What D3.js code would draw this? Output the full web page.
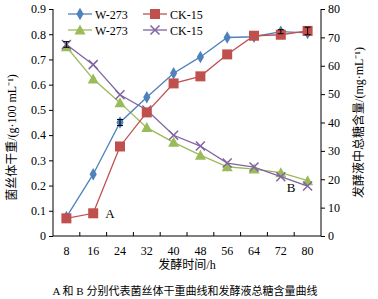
<!DOCTYPE html>
<html>
<head>
<meta charset="utf-8">
<script src="https://cdn.jsdelivr.net/npm/d3@7"></script>
<style>
  body { margin: 0; background: #fff; }
  svg text { font-family: "Liberation Serif", "Noto Sans CJK SC", serif; fill: #000; }
  .axis path, .axis line { stroke: #000; }
</style>
</head>
<body>
<svg id="chart" width="378" height="299"></svg>
<script>
// Data
const hours = [8, 16, 24, 32, 40, 48, 56, 64, 72, 80];
const dryW273 = [0.075, 0.245, 0.45, 0.55, 0.645, 0.71, 0.787, 0.79, 0.81, 0.805];
const dryCK15 = [0.07, 0.09, 0.355, 0.49, 0.605, 0.633, 0.72, 0.794, 0.798, 0.813];
const sugarW273 = [66.7, 55.3, 47.0, 38.2, 33.0, 28.5, 24.4, 23.6, 22.3, 19.5];
const sugarCK15 = [67.5, 60.4, 49.8, 44.4, 35.5, 31.7, 25.7, 24.3, 20.9, 17.6];
const leftTicks = [0, 0.1, 0.2, 0.3, 0.4, 0.5, 0.6, 0.7, 0.8, 0.9];
const rightTicks = [0, 10, 20, 30, 40, 50, 60, 70, 80];

const margin = { top: 9, right: 57, bottom: 63, left: 53 };
const width = 378 - margin.left - margin.right;
const height = 299 - margin.top - margin.bottom;

const svg = d3.select("#chart")
    .append("g")
    .attr("transform", `translate(${margin.left},${margin.top})`);

// Scales
const x = d3.scaleBand().domain(hours).range([0, width]).padding(0);
const cx = d => x(d) + x.bandwidth() / 2;
const yL = d3.scaleLinear().domain([0, 0.9]).range([height, 0]);
const yR = d3.scaleLinear().domain([0, 80]).range([height, 0]);

// Axes
svg.append("g")
    .attr("class", "axis")
    .call(d3.axisLeft(yL).tickValues(leftTicks).tickSize(4).tickFormat(d => d === 0 ? "0" : d3.format(".1f")(d)))
    .call(g => g.select(".domain").attr("d", `M0,0V${height}`))
    .selectAll("text").style("font-size", "12px");

svg.append("g")
    .attr("class", "axis")
    .attr("transform", `translate(${width},0)`)
    .call(d3.axisRight(yR).tickValues(rightTicks).tickSize(4))
    .call(g => g.select(".domain").attr("d", `M0,0V${height}`))
    .selectAll("text").style("font-size", "12px");

const xAxis = svg.append("g")
    .attr("class", "axis")
    .attr("transform", `translate(0,${height})`)
    .call(d3.axisBottom(x).tickSize(0).tickPadding(10))
    .call(g => g.select(".domain").attr("d", `M0,0H${width}`));
xAxis.selectAll("text").style("font-size", "12px");

// boundary ticks on the category axis
xAxis.selectAll(".bt")
    .data(d3.range(1, hours.length))
    .enter()
    .append("line")
    .attr("x1", i => i * x.step())
    .attr("x2", i => i * x.step())
    .attr("y1", 0)
    .attr("y2", -4)
    .attr("stroke", "#000");

// Series
const series = [
    { name: "W-273", values: dryW273, y: yL, color: "#4F81BD", marker: "diamond" },
    { name: "CK-15", values: dryCK15, y: yL, color: "#C0504D", marker: "square" },
    { name: "W-273", values: sugarW273, y: yR, color: "#9BBB59", marker: "triangle" },
    { name: "CK-15", values: sugarCK15, y: yR, color: "#8064A2", marker: "x" }
];

function drawMarker(g, type, color) {
    if (type === "diamond") {
        g.append("path").attr("d", d3.symbol(d3.symbolDiamond, 45)()).attr("fill", color);
    } else if (type === "square") {
        g.append("rect").attr("x", -5).attr("y", -5).attr("width", 10).attr("height", 10).attr("fill", color);
    } else if (type === "triangle") {
        g.append("path").attr("d", "M0,-5.5L5.5,4.5L-5.5,4.5Z").attr("fill", color);
    } else {
        g.append("path").attr("d", "M-4.5,-4.5L4.5,4.5M-4.5,4.5L4.5,-4.5").attr("stroke", color).attr("stroke-width", 1.5).attr("fill", "none");
    }
}

// Error bars (small)
const errs = [
    { h: 24, v: 0.45, e: 0.012, y: yL },
    { h: 72, v: 0.81, e: 0.008, y: yL },
    { h: 80, v: 0.813, e: 0.015, y: yL },
    { h: 8, v: 67.5, e: 1.0, y: yR }
];

// draw order: sugar series first, then dry weight
[2, 3, 0, 1].forEach(i => {
    const s = series[i];
    const line = d3.line().x((d, j) => cx(hours[j])).y(d => s.y(d));
    svg.append("path")
        .datum(s.values)
        .attr("d", line)
        .attr("fill", "none")
        .attr("stroke", s.color)
        .attr("stroke-width", 1.3);
    s.values.forEach((v, j) => {
        const g = svg.append("g").attr("transform", `translate(${cx(hours[j])},${s.y(v)})`);
        drawMarker(g, s.marker, s.color);
    });
});

errs.forEach(d => {
    const g = svg.append("g").attr("stroke", "#000").attr("stroke-width", 1);
    g.append("line").attr("x1", cx(d.h)).attr("x2", cx(d.h)).attr("y1", d.y(d.v - d.e)).attr("y2", d.y(d.v + d.e));
    g.append("line").attr("x1", cx(d.h) - 3).attr("x2", cx(d.h) + 3).attr("y1", d.y(d.v + d.e)).attr("y2", d.y(d.v + d.e));
    g.append("line").attr("x1", cx(d.h) - 3).attr("x2", cx(d.h) + 3).attr("y1", d.y(d.v - d.e)).attr("y2", d.y(d.v - d.e));
});

// A / B annotations
svg.append("text").attr("x", cx(16) + 12).attr("y", yL(0.09) + 5).style("font-size", "13px").text("A");
svg.append("text").attr("x", cx(72) + 6).attr("y", yR(17.5) + 6).style("font-size", "13px").text("B");

// Legend
const legend = svg.append("g");
series.forEach((s, i) => {
    const col = i % 2, row = Math.floor(i / 2);
    const lx = 15 + col * 75, ly = 5 + row * 16;
    const g = legend.append("g").attr("transform", `translate(${lx},${ly})`);
    g.append("line").attr("x1", 0).attr("x2", 24).attr("y1", 0).attr("y2", 0).attr("stroke", s.color).attr("stroke-width", 1.3);
    drawMarker(g.append("g").attr("transform", "translate(12,0)"), s.marker, s.color);
    g.append("text").attr("x", 27).attr("y", 4.5).style("font-size", "12px").text(s.name);
});

// Axis titles
svg.append("text")
    .attr("transform", `translate(${-37},${height / 2 + 15}) rotate(-90)`)
    .attr("text-anchor", "middle")
    .style("font-size", "12px")
    .text("菌丝体干重/(g·100 mL⁻¹)");

svg.append("text")
    .attr("transform", `translate(${width + 42},${height / 2}) rotate(-90)`)
    .attr("text-anchor", "middle")
    .style("font-size", "12px")
    .text("发酵液中总糖含量/(mg·mL⁻¹)");

svg.append("text")
    .attr("x", width / 2)
    .attr("y", height + 33)
    .attr("text-anchor", "middle")
    .style("font-size", "12px")
    .text("发酵时间/h");

svg.append("text")
    .attr("x", width / 2 - 2)
    .attr("y", height + 59)
    .attr("text-anchor", "middle")
    .style("font-size", "11px")
    .text("A 和 B 分别代表菌丝体干重曲线和发酵液总糖含量曲线");
</script>
</body>
</html>
